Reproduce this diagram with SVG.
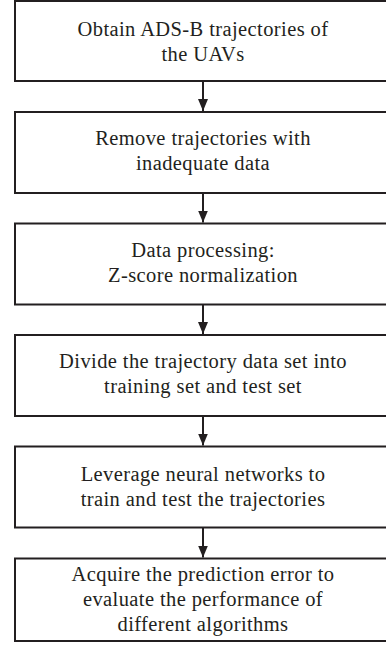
<svg xmlns="http://www.w3.org/2000/svg" width="386" height="646" viewBox="0 0 386 646">
<style>
.box{fill:#fff;stroke:#231f20;stroke-width:2}
.t{font-family:'Liberation Serif','Times New Roman',serif;font-size:20.5px;letter-spacing:0.4px;fill:#231f20;text-anchor:middle}
.c{stroke:#231f20;stroke-width:2;fill:none}
</style>
<defs>
<marker id="ah" markerUnits="userSpaceOnUse" markerWidth="12" markerHeight="10" refX="12" refY="5" orient="auto">
<path d="M0,0 L12,5 L0,10 Z" fill="#231f20"/>
</marker>
</defs>
<rect width="386" height="646" fill="#fff"/>
<g id="connectors">
<line class="c" x1="203" y1="81" x2="203" y2="111" marker-end="url(#ah)"/>
<line class="c" x1="203" y1="193" x2="203" y2="222.5" marker-end="url(#ah)"/>
<line class="c" x1="203" y1="304.5" x2="203" y2="334" marker-end="url(#ah)"/>
<line class="c" x1="203" y1="416" x2="203" y2="445.5" marker-end="url(#ah)"/>
<line class="c" x1="203" y1="527.5" x2="203" y2="557.5" marker-end="url(#ah)"/>
</g>
<g id="n1"><rect class="box" x="15" y="1" width="375" height="80"/>
<text class="t" x="203" y="36">Obtain ADS-B trajectories of</text>
<text class="t" x="203" y="61">the UAVs</text></g>
<g id="n2"><rect class="box" x="15" y="112" width="375" height="81"/>
<text class="t" x="203" y="145">Remove trajectories with</text>
<text class="t" x="203" y="170">inadequate data</text></g>
<g id="n3"><rect class="box" x="15" y="223.5" width="375" height="81"/>
<text class="t" x="203" y="257">Data processing:</text>
<text class="t" x="203" y="282">Z-score normalization</text></g>
<g id="n4"><rect class="box" x="15" y="335" width="375" height="81"/>
<text class="t" x="203" y="368">Divide the trajectory data set into</text>
<text class="t" x="203" y="393">training set and test set</text></g>
<g id="n5"><rect class="box" x="15" y="446.5" width="375" height="81"/>
<text class="t" x="203" y="481">Leverage neural networks to</text>
<text class="t" x="203" y="506">train and test the trajectories</text></g>
<g id="n6"><rect class="box" x="15" y="558.5" width="375" height="82.5"/>
<text class="t" x="203" y="581">Acquire the prediction error to</text>
<text class="t" x="203" y="606">evaluate the performance of</text>
<text class="t" x="203" y="631">different algorithms</text></g>
</svg>
